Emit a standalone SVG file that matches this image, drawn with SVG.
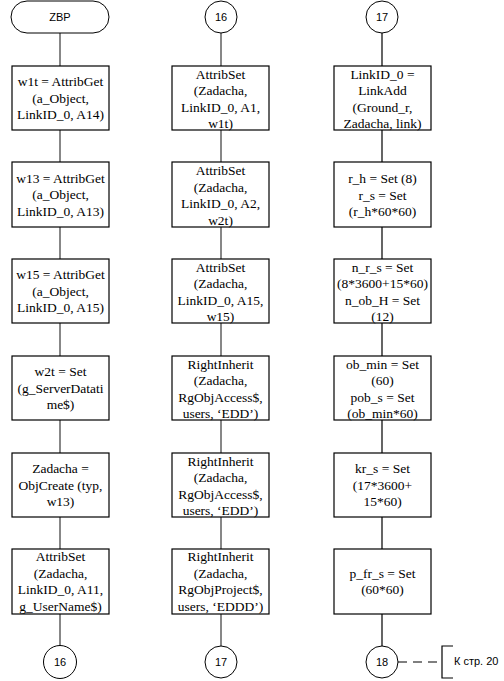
<svg xmlns="http://www.w3.org/2000/svg" width="504" height="681" viewBox="0 0 504 681">
<style>
.box{fill:#fff;stroke:#000;stroke-width:1.2}
.term{fill:#fff;stroke:#000;stroke-width:1}
.t{font-family:"Liberation Serif","Times New Roman",serif;font-size:13.5px;fill:#000;text-anchor:middle}
.s{font-family:"Liberation Sans",Arial,sans-serif;font-size:11px;fill:#000;text-anchor:middle}
.c1{stroke:#6a6a6a;stroke-width:1.6;fill:none}
.c3{stroke:#000;stroke-width:1.2;fill:none}
</style>
<rect width="504" height="681" fill="#fff"/>
<g id="connectors">
<path class="c1" d="M60 33V66M60 130V162M60 227V259M60 323V356M60 420V453M60 517V549M60 614V646"/>
<path class="c1" d="M221 33V66M221 130V162M221 227V259M221 323V356M221 420V453M221 517V549M221 614V646"/>
<path class="c3" d="M382 33V66M382 130V162M382 227V259M382 323V356M382 420V453M382 517V549M382 614V646"/>
<path class="c3" d="M398 662H440" stroke-dasharray="9,6"/>
<path class="c3" d="M453 646H442V678H453" stroke-width="1"/>
</g>
<g id="zbp"><rect class="term" x="11" y="1" width="98" height="32" rx="16"/><text class="s" x="60" y="21">ZBP</text></g>
<g id="a1"><rect class="box" x="12" y="66" width="97" height="64"/><text class="t" x="60.5"><tspan x="60.5" y="86">w1t = AttribGet</tspan><tspan x="60.5" y="102.5">(a_Object,</tspan><tspan x="60.5" y="119">LinkID_0, A14)</tspan></text></g>
<g id="a2"><rect class="box" x="12" y="162" width="97" height="65"/><text class="t"><tspan x="60.5" y="182.5">w13 = AttribGet</tspan><tspan x="60.5" y="199">(a_Object,</tspan><tspan x="60.5" y="215.5">LinkID_0, A13)</tspan></text></g>
<g id="a3"><rect class="box" x="12" y="259" width="97" height="64"/><text class="t"><tspan x="60.5" y="279">w15 = AttribGet</tspan><tspan x="60.5" y="295.5">(a_Object,</tspan><tspan x="60.5" y="312">LinkID_0, A15)</tspan></text></g>
<g id="a4"><rect class="box" x="12" y="356" width="97" height="64"/><text class="t"><tspan x="60.5" y="376">w2t = Set</tspan><tspan x="60.5" y="392.5">(g_ServerDatati</tspan><tspan x="60.5" y="409">me$)</tspan></text></g>
<g id="a5"><rect class="box" x="12" y="453" width="97" height="64"/><text class="t"><tspan x="60.5" y="473">Zadacha =</tspan><tspan x="60.5" y="489.5">ObjCreate (typ,</tspan><tspan x="60.5" y="506">w13)</tspan></text></g>
<g id="a6"><rect class="box" x="12" y="549" width="97" height="65"/><text class="t"><tspan x="60.5" y="561">AttribSet</tspan><tspan x="60.5" y="577.5">(Zadacha,</tspan><tspan x="60.5" y="594">LinkID_0, A11,</tspan><tspan x="60.5" y="610.5">g_UserName$)</tspan></text></g>
<g id="c16a"><circle class="term" cx="60" cy="662" r="16.5"/><text class="s" x="60" y="666">16</text></g>
<g id="c16b"><circle class="term" cx="221" cy="17" r="16"/><text class="s" x="221" y="21">16</text></g>
<g id="b1"><rect class="box" x="172" y="66" width="97" height="64"/><text class="t"><tspan x="220.5" y="78.5">AttribSet</tspan><tspan x="220.5" y="95">(Zadacha,</tspan><tspan x="220.5" y="111.5">LinkID_0, A1,</tspan><tspan x="220.5" y="128">w1t)</tspan></text></g>
<g id="b2"><rect class="box" x="172" y="162" width="97" height="65"/><text class="t"><tspan x="220.5" y="175">AttribSet</tspan><tspan x="220.5" y="191.5">(Zadacha,</tspan><tspan x="220.5" y="208">LinkID_0, A2,</tspan><tspan x="220.5" y="224.5">w2t)</tspan></text></g>
<g id="b3"><rect class="box" x="172" y="259" width="97" height="64"/><text class="t"><tspan x="220.5" y="271.5">AttribSet</tspan><tspan x="220.5" y="288">(Zadacha,</tspan><tspan x="220.5" y="304.5">LinkID_0, A15,</tspan><tspan x="220.5" y="321">w15)</tspan></text></g>
<g id="b4"><rect class="box" x="172" y="356" width="97" height="64"/><text class="t"><tspan x="220.5" y="368.5">RightInherit</tspan><tspan x="220.5" y="385">(Zadacha,</tspan><tspan x="220.5" y="401.5">RgObjAccess$,</tspan><tspan x="220.5" y="418">users, ‘EDD’)</tspan></text></g>
<g id="b5"><rect class="box" x="172" y="453" width="97" height="64"/><text class="t"><tspan x="220.5" y="465.5">RightInherit</tspan><tspan x="220.5" y="482">(Zadacha,</tspan><tspan x="220.5" y="498.5">RgObjAccess$,</tspan><tspan x="220.5" y="515">users, ‘EDD’)</tspan></text></g>
<g id="b6"><rect class="box" x="172" y="549" width="97" height="65"/><text class="t"><tspan x="220.5" y="561">RightInherit</tspan><tspan x="220.5" y="577.5">(Zadacha,</tspan><tspan x="220.5" y="594">RgObjProject$,</tspan><tspan x="220.5" y="610.5">users, ‘EDDD’)</tspan></text></g>
<g id="c17b"><circle class="term" cx="221" cy="662" r="16"/><text class="s" x="221" y="666">17</text></g>
<g id="c17a"><circle class="term" cx="382" cy="17" r="16"/><text class="s" x="382" y="21">17</text></g>
<g id="d1"><rect class="box" x="334" y="66" width="97" height="64"/><text class="t"><tspan x="382.5" y="78.5">LinkID_0 =</tspan><tspan x="382.5" y="95">LinkAdd</tspan><tspan x="382.5" y="111.5">(Ground_r,</tspan><tspan x="382.5" y="128">Zadacha, link)</tspan></text></g>
<g id="d2"><rect class="box" x="334" y="162" width="97" height="65"/><text class="t"><tspan x="382.5" y="183">r_h = Set (8)</tspan><tspan x="382.5" y="199.5">r_s = Set</tspan><tspan x="382.5" y="216">(r_h*60*60)</tspan></text></g>
<g id="d3"><rect class="box" x="334" y="259" width="97" height="64"/><text class="t"><tspan x="382.5" y="271.5">n_r_s = Set</tspan><tspan x="382.5" y="288">(8*3600+15*60)</tspan><tspan x="382.5" y="304.5">n_ob_H = Set</tspan><tspan x="382.5" y="321">(12)</tspan></text></g>
<g id="d4"><rect class="box" x="334" y="356" width="97" height="64"/><text class="t"><tspan x="382.5" y="368.5">ob_min = Set</tspan><tspan x="382.5" y="385">(60)</tspan><tspan x="382.5" y="401.5">pob_s = Set</tspan><tspan x="382.5" y="418">(ob_min*60)</tspan></text></g>
<g id="d5"><rect class="box" x="334" y="453" width="97" height="64"/><text class="t"><tspan x="382.5" y="473">kr_s = Set</tspan><tspan x="382.5" y="489.5">(17*3600+</tspan><tspan x="382.5" y="506">15*60)</tspan></text></g>
<g id="d6"><rect class="box" x="334" y="549" width="97" height="65"/><text class="t"><tspan x="382.5" y="577.5">p_fr_s = Set</tspan><tspan x="382.5" y="594">(60*60)</tspan></text></g>
<g id="c18"><circle class="term" cx="382" cy="662" r="16"/><text class="s" x="382" y="666">18</text></g>
<g id="note"><text class="s" x="454" y="665" style="text-anchor:start">К стр. 20</text></g>
</svg>
